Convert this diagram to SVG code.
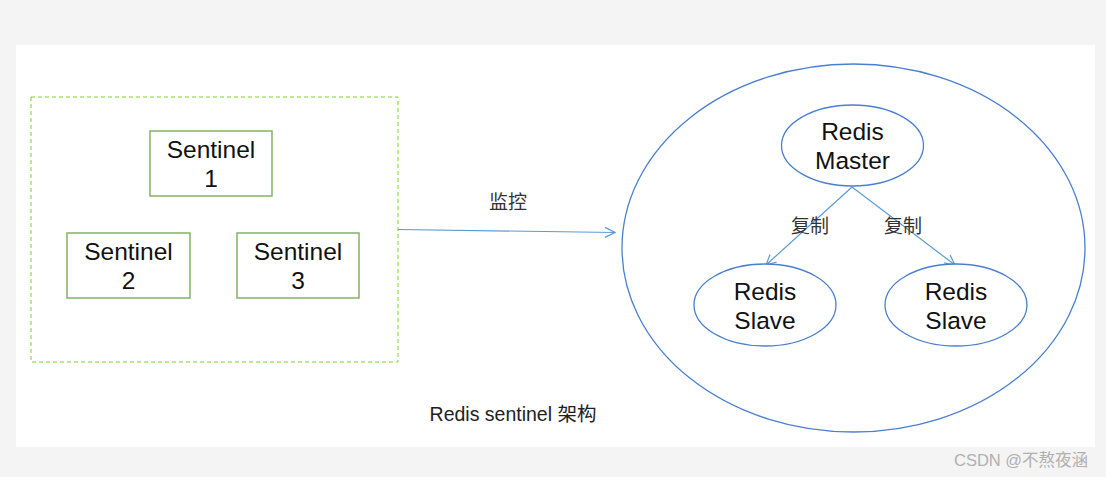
<svg xmlns="http://www.w3.org/2000/svg" width="1106" height="477" viewBox="0 0 1106 477">
<style>
.bg{fill:#f4f4f4}
.panel{fill:#ffffff}
.group{fill:none;stroke:#7ed321;stroke-width:1;stroke-dasharray:4 3}
.box{fill:#ffffff;stroke:#82b366;stroke-width:1.5}
.ell{fill:#ffffff;stroke:#4a7fd0;stroke-width:1.3}
.big{fill:none;stroke:#4a7fd0;stroke-width:1.3}
.lbl{font-family:"Liberation Sans",Arial,sans-serif;font-size:24.5px;fill:#111;text-anchor:middle}
.cn{font-family:"Noto Sans CJK SC",sans-serif;font-size:19px;fill:#333;text-anchor:middle}
.cap{font-family:"Liberation Sans","Noto Sans CJK SC",sans-serif;font-size:19.5px;fill:#222;text-anchor:middle}
.wm{font-family:"Liberation Sans","Noto Sans CJK SC",sans-serif;font-size:16.5px;fill:#b0b0b0}
.conn{fill:none;stroke:#5b9bd5;stroke-width:1.2}
</style>
<defs>
<marker id="arr" viewBox="0 0 12 12" refX="11" refY="6" markerWidth="12" markerHeight="12" markerUnits="userSpaceOnUse" orient="auto">
<path d="M1,1 L11,6 L1,11" fill="none" stroke="#5b9bd5" stroke-width="1.2"/>
</marker>
</defs>
<rect class="bg" x="0" y="0" width="1106" height="477"/>
<rect class="panel" x="16" y="45" width="1079" height="402"/>
<g id="sentinel-group">
<rect class="group" x="31" y="97" width="367" height="265"/>
</g>
<g id="sentinel1">
<rect class="box" x="150" y="131" width="122" height="65"/>
<text class="lbl" x="211" y="158">Sentinel</text>
<text class="lbl" x="211" y="187">1</text>
</g>
<g id="sentinel2">
<rect class="box" x="67" y="233" width="123" height="65"/>
<text class="lbl" x="128.5" y="260">Sentinel</text>
<text class="lbl" x="128.5" y="289">2</text>
</g>
<g id="sentinel3">
<rect class="box" x="237" y="233" width="122" height="65"/>
<text class="lbl" x="298" y="260">Sentinel</text>
<text class="lbl" x="298" y="289">3</text>
</g>
<g id="redis-cluster">
<ellipse class="big" cx="853.5" cy="248" rx="231.5" ry="184"/>
</g>
<g id="connectors">
<line class="conn" x1="398" y1="229.5" x2="615" y2="232.5" marker-end="url(#arr)"/>
<line class="conn" x1="852" y1="187" x2="766" y2="265" marker-end="url(#arr)"/>
<line class="conn" x1="852" y1="187" x2="955" y2="265" marker-end="url(#arr)"/>
<text class="cn" x="508" y="209">监控</text>
<text class="cn" x="810" y="233">复制</text>
<text class="cn" x="903" y="233">复制</text>
</g>
<g id="master">
<ellipse class="ell" cx="852.5" cy="145.5" rx="71" ry="40.5"/>
<text class="lbl" x="852.5" y="140">Redis</text>
<text class="lbl" x="852.5" y="169">Master</text>
</g>
<g id="slave1">
<ellipse class="ell" cx="765" cy="305" rx="71" ry="41"/>
<text class="lbl" x="765" y="300">Redis</text>
<text class="lbl" x="765" y="329">Slave</text>
</g>
<g id="slave2">
<ellipse class="ell" cx="956" cy="305" rx="71" ry="41"/>
<text class="lbl" x="956" y="300">Redis</text>
<text class="lbl" x="956" y="329">Slave</text>
</g>
<text class="cap" x="513" y="421">Redis sentinel 架构</text>
<text class="wm" x="954" y="466">CSDN @不熬夜涵</text>
</svg>
